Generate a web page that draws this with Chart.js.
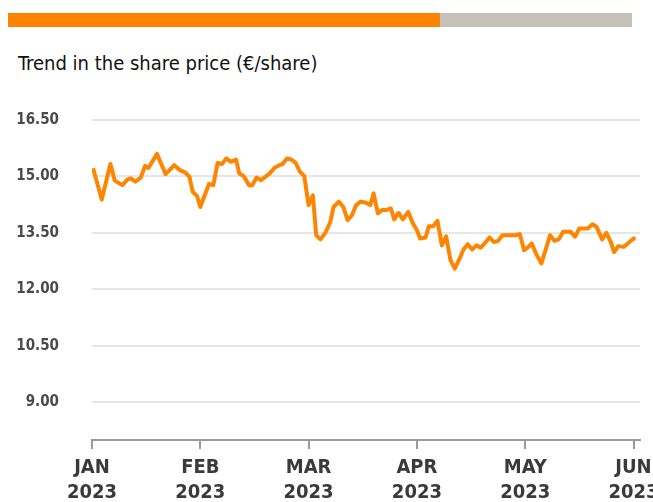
<!DOCTYPE html>
<html>
<head>
<meta charset="utf-8">
<script src="https://cdn.jsdelivr.net/npm/chart.js@4"></script>
<style>
  body { margin: 0; background: #fff; }
  #wrap { position: relative; width: 653px; height: 502px; }
  .bar { position: absolute; top: 13px; height: 14px; }
  #titolo { position: absolute; left: 18px; top: 51px; font: 20px "DejaVu Sans Condensed", "DejaVu Sans", sans-serif; color: #111; }
  canvas { position: absolute; left: 0; top: 0; }
</style>
</head>
<body>
<div id="wrap">
  <div class="bar" style="left:8px;width:432px;background:#ff8300"></div>
  <div class="bar" style="left:440px;width:192px;background:#c6c1b9"></div>
  <div id="titolo">Trend in the share price (€/share)</div>
  <canvas id="grafico" width="653" height="502"></canvas>
</div>
<script>
// posizione in mesi dall'inizio di gennaio (0 = JAN, 5 = JUN)
const posizioni = [
  0.01, 0.09, 0.17, 0.21, 0.28, 0.33, 0.36, 0.40, 0.45, 0.49, 0.52, 0.60, 0.68, 0.76, 0.81, 0.86, 0.90, 0.93, 0.97,
  1.00, 1.08, 1.12, 1.16, 1.20, 1.24, 1.28, 1.33, 1.36, 1.40, 1.45, 1.48, 1.52, 1.56, 1.60, 1.64, 1.69, 1.73, 1.76, 1.80, 1.84, 1.88, 1.92, 1.96,
  2.00, 2.04, 2.07, 2.11, 2.16, 2.20, 2.23, 2.28, 2.32, 2.36, 2.40, 2.44, 2.48, 2.53, 2.57, 2.60, 2.64, 2.68, 2.72, 2.76, 2.79, 2.83, 2.87, 2.92, 2.96,
  3.00, 3.03, 3.08, 3.11, 3.15, 3.19, 3.23, 3.27, 3.31, 3.35, 3.39, 3.43, 3.47, 3.51, 3.55, 3.59, 3.63, 3.67, 3.71, 3.75, 3.79, 3.85, 3.91, 3.95, 3.99,
  4.03, 4.06, 4.10, 4.15, 4.23, 4.27, 4.31, 4.35, 4.42, 4.46, 4.50, 4.58, 4.62, 4.66, 4.71, 4.75, 4.79, 4.82, 4.86, 4.91, 4.94, 5.00, 5.02
];
const prezzi = [
  15.22, 14.39, 15.33, 14.89, 14.77, 14.92, 14.95, 14.86, 14.97, 15.28, 15.22, 15.60, 15.06, 15.30, 15.17, 15.11, 14.99, 14.59, 14.48,
  14.19, 14.80, 14.77, 15.36, 15.33, 15.48, 15.39, 15.45, 15.08, 15.01, 14.77, 14.77, 14.97, 14.90, 14.99, 15.08, 15.24, 15.30, 15.33, 15.48, 15.45, 15.36, 15.13, 15.01,
  14.24, 14.50, 13.44, 13.33, 13.53, 13.79, 14.19, 14.33, 14.19, 13.84, 13.97, 14.24, 14.33, 14.30, 14.24, 14.55, 14.02, 14.11, 14.11, 14.15, 13.86, 14.03, 13.86, 14.06, 13.77,
  13.57, 13.35, 13.38, 13.68, 13.68, 13.82, 13.17, 13.41, 12.78, 12.55, 12.79, 13.06, 13.20, 13.06, 13.17, 13.11, 13.24, 13.38, 13.26, 13.29, 13.44, 13.44, 13.44, 13.47, 13.04,
  13.13, 13.22, 12.95, 12.69, 13.44, 13.29, 13.33, 13.53, 13.53, 13.40, 13.62, 13.62, 13.73, 13.66, 13.33, 13.50, 13.26, 12.99, 13.15, 13.13, 13.20, 13.35, 13.35
];
const mesi = [['JAN', '2023'], ['FEB', '2023'], ['MAR', '2023'], ['APR', '2023'], ['MAY', '2023'], ['JUN', '2023']];
const tickY = [9.00, 10.50, 12.00, 13.50, 15.00, 16.50];

const punti = posizioni.map((x, i) => ({ x: x, y: prezzi[i] }));
const ctx = document.getElementById('grafico').getContext('2d');

new Chart(ctx, {
  type: 'line',
  data: {
    datasets: [{
      data: punti,
      borderColor: '#ff8500',
      borderWidth: 4,
      borderJoinStyle: 'round',
      pointRadius: 0,
      tension: 0,
      fill: false
    }]
  },
  options: {
    responsive: false,
    animation: false,
    layout: { padding: { top: 120, right: 13, left: 0, bottom: 0 } },
    plugins: { legend: { display: false }, tooltip: { enabled: false } },
    scales: {
      x: {
        type: 'linear',
        min: 0,
        max: 5.06,
        afterBuildTicks: (scale) => { scale.ticks = mesi.map((_, i) => ({ value: i })); },
        afterFit: (scale) => { scale.height = 62; scale.paddingLeft = 0; scale.paddingRight = 0; },
        ticks: {
          autoSkip: false,
          maxRotation: 0,
          padding: 6,
          color: '#3a3a3a',
          font: { family: '"DejaVu Sans Condensed", "DejaVu Sans", sans-serif', size: 20, weight: 'bold', lineHeight: 1.25 },
          callback: (v) => mesi[v]
        },
        grid: { drawOnChartArea: false, drawTicks: true, tickLength: 9, color: '#9a9a9a', lineWidth: 2 },
        border: { display: true, color: '#9a9a9a', width: 2 }
      },
      y: {
        min: 8,
        max: 16.5,
        afterBuildTicks: (scale) => { scale.ticks = tickY.map(v => ({ value: v })); },
        afterFit: (scale) => { scale.width = 92; },
        ticks: {
          padding: 33,
          color: '#4a4a4a',
          font: { family: '"DejaVu Sans Condensed", "DejaVu Sans", sans-serif', size: 15, weight: 'bold' },
          callback: (v) => v.toFixed(2)
        },
        grid: { color: '#e6e6e6', lineWidth: 2, drawTicks: false },
        border: { display: false }
      }
    }
  }
});
</script>
</body>
</html>
